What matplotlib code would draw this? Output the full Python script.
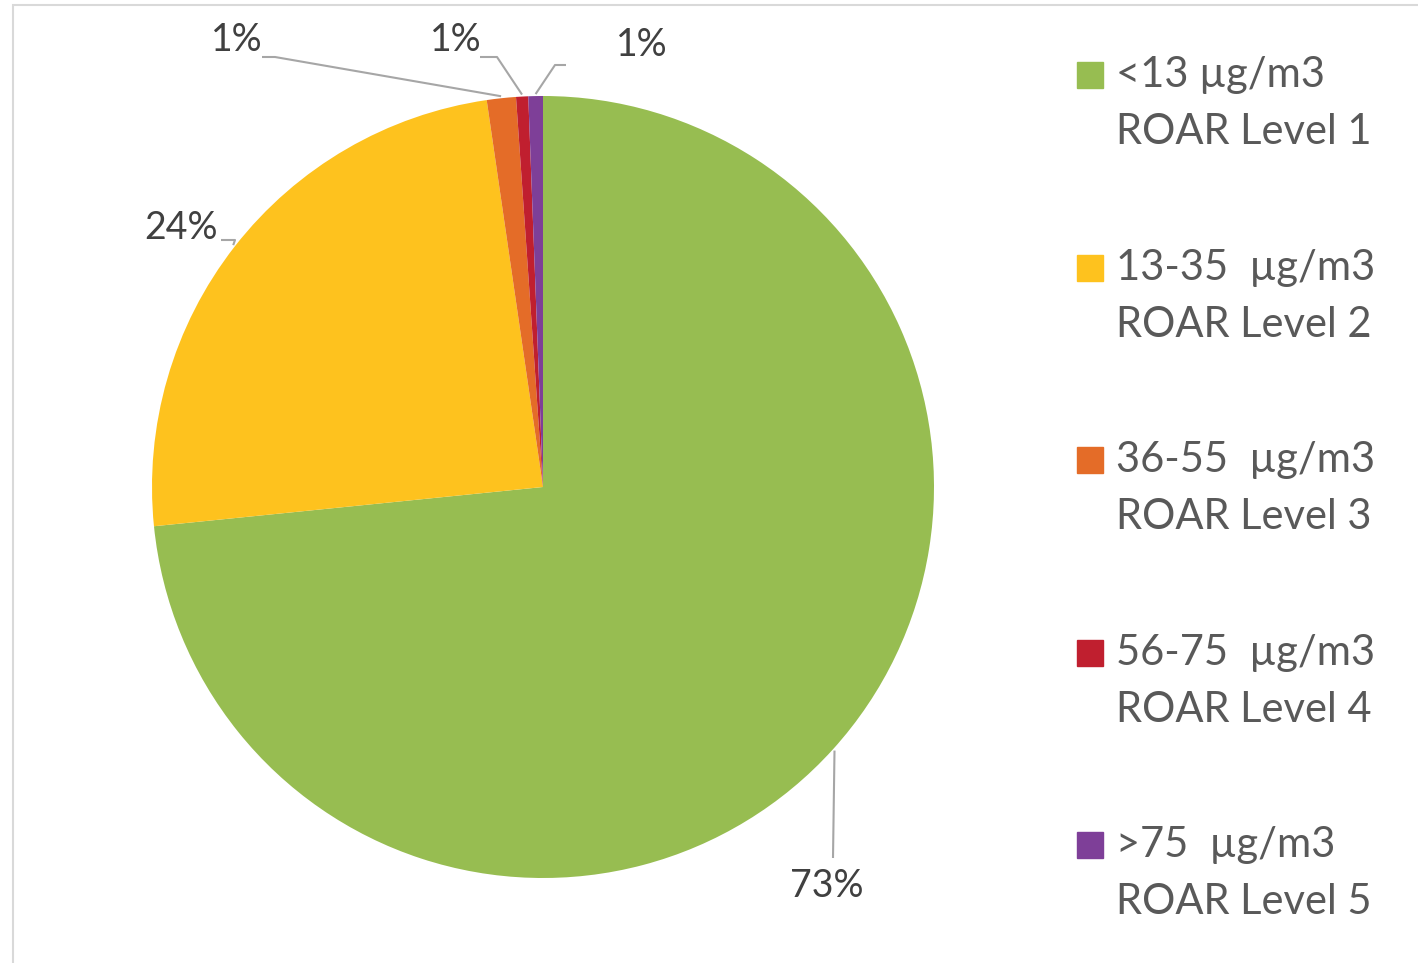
"""
pie of hours per ROAR PM2.5 level
"""
import matplotlib.pyplot as plt
import matplotlib.patches as mpatches
import numpy as np

W, H = 1418, 963

categories = ["<13 µg/m3\nROAR Level 1", "13-35  µg/m3\nROAR Level 2",
              "36-55  µg/m3\nROAR Level 3", "56-75  µg/m3\nROAR Level 4",
              ">75  µg/m3\nROAR Level 5"]
shares = [73.4, 24.3, 1.2, 0.5, 0.6]
pct_labels = ["73%", "24%", "1%", "1%", "1%"]
colors = ["#97BD51", "#FEC21E", "#E46C28", "#C01F2F", "#7E3F98"]

plt.rcParams['font.family'] = ['Lato', 'DejaVu Sans']

# label layout in pixels (top origin): text centre, elbow, line end
label_pos = [(827, 886), (181, 228), (237, 40), (456, 40), (642, 45)]
elbows = [(833, 858), (235, 240), (275, 57), (497, 57), (555, 65)]
ends = [(833, 858), (221, 240), (262, 57), (480, 57), (566, 65)]


def Y(py):
    return H - py


fig = plt.figure(figsize=(W / 100, H / 100), dpi=100)
ax = fig.add_axes([0, 0, 1, 1])

# frame
ax.add_patch(mpatches.Rectangle((13, -10), W, Y(5) + 10, fill=False,
                                edgecolor="#D9D9D9", linewidth=1.5))

cx, cy, r = 543, Y(487), 391
wedges, _ = ax.pie(shares, colors=colors, startangle=90, counterclock=False,
                   center=(cx, cy), radius=r, frame=True,
                   wedgeprops=dict(linewidth=0))
ax.set_xlim(0, W)
ax.set_ylim(0, H)
ax.set_aspect('equal')
ax.axis('off')

for w, lab, tp, el, en in zip(wedges, pct_labels, label_pos, elbows, ends):
    mid = np.deg2rad((w.theta1 + w.theta2) / 2)
    ex, ey = cx + (r + 2) * np.cos(mid), cy + (r + 2) * np.sin(mid)
    ax.plot([ex, el[0], en[0]], [ey, Y(el[1]), Y(en[1])], color="#A6A6A6",
            linewidth=1.5, solid_capstyle='butt')
    ax.text(tp[0], Y(tp[1]), lab, ha='center', va='center', fontsize=27,
            color="#404040")

# legend
for i, (cat, col) in enumerate(zip(categories, colors)):
    top = 75 + i * 192.5
    ax.add_patch(mpatches.Rectangle((1077, Y(top) - 13), 26, 26, color=col))
    for j, line in enumerate(cat.split("\n")):
        ax.text(1116, Y(top + j * 57), line, ha='left', va='center',
                fontsize=30, color="#595959")

fig.savefig("out.png", dpi=100)
